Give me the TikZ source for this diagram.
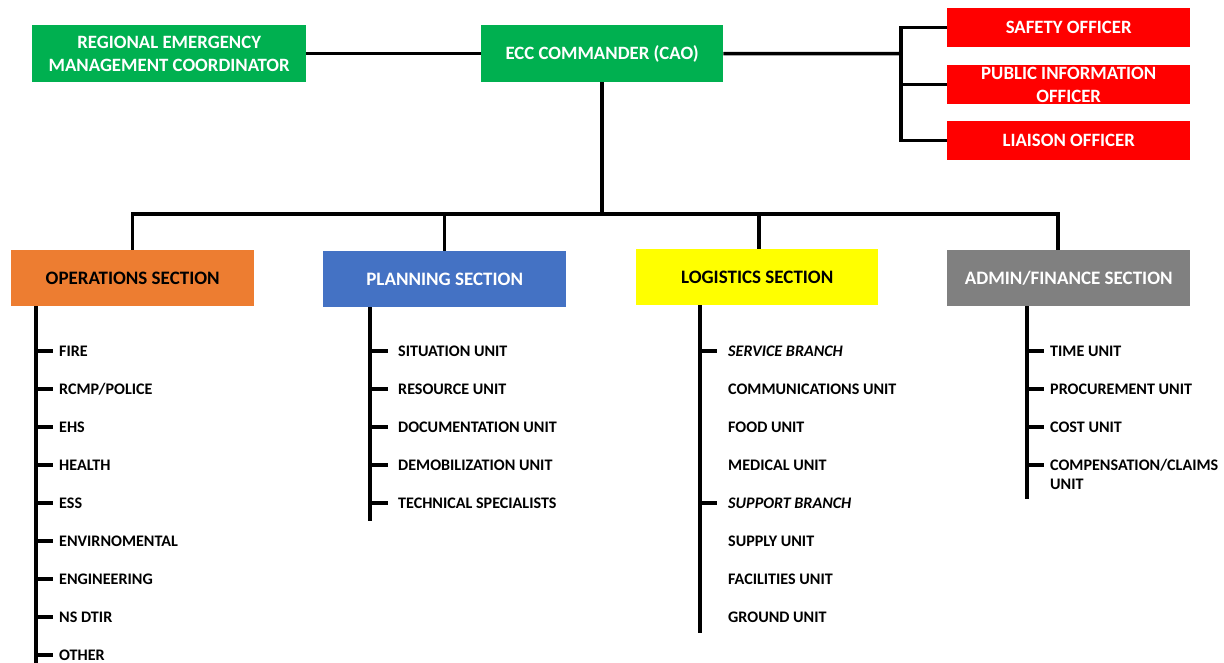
\documentclass[tikz,border=0pt]{standalone}
\usepackage{fontspec}
\setmainfont{Carlito}
\definecolor{eccgreen}{HTML}{00B050}
\definecolor{offred}{HTML}{FF0000}
\definecolor{opsorange}{HTML}{ED7D31}
\definecolor{planblue}{HTML}{4472C4}
\definecolor{logyellow}{HTML}{FFFF00}
\definecolor{admgray}{HTML}{808080}
\begin{document}
\begin{tikzpicture}[x=1pt,y=-1pt,
  box/.style={draw=none, inner sep=0pt, anchor=north west, align=center,
    font=\bfseries\fontsize{18.8}{22.5}\selectfont},
  topbox/.style={box, fill=eccgreen, text=white, minimum height=57pt},
  offbox/.style={box, fill=offred, text=white, minimum width=243pt, minimum height=39pt},
  secbox/.style={box, minimum width=243pt, minimum height=56pt, font=\bfseries\fontsize{19}{22}\selectfont},
  item/.style={anchor=west, inner sep=0pt, text height=10.3pt, text depth=0pt,
    font=\bfseries\fontsize{16.1}{19}\selectfont},
  conn/.style={line width=3.5pt, line join=miter}]
\useasboundingbox (0,0) rectangle (1224,663);

% top row
\node[topbox, minimum width=274pt] (rc) at (32,25) {REGIONAL EMERGENCY\\MANAGEMENT COORDINATOR};
\node[topbox, minimum width=242pt, text depth=2pt] (ecc) at (481,25) {ECC COMMANDER (CAO)};
\node[offbox] (safety) at (947,8) {SAFETY OFFICER};
\node[offbox] (pio) at (947,65) {PUBLIC INFORMATION\\OFFICER};
\node[offbox] (liaison) at (947,121) {LIAISON OFFICER};

% sections
\node[secbox, fill=opsorange, text=black] (ops) at (11,250) {OPERATIONS SECTION};
\node[secbox, fill=planblue, text=white] (plan) at (323,251) {PLANNING SECTION};
\node[secbox, fill=logyellow, text=black, minimum width=242pt] (log) at (636,249) {LOGISTICS SECTION};
\node[secbox, fill=admgray, text=white] (adm) at (947,250) {ADMIN/FINANCE SECTION};

% connectors top
\coordinate (jr) at (901,53.5);
\coordinate (bus) at (601,214);
\coordinate (admtop) at (1058,250);
\coordinate (logtop) at (759,249);
\draw[conn] (rc.east) -- (ecc.west);
\draw[conn] (ecc.east) -- (jr);
\draw[conn] (safety.west) -| (jr) |- (liaison.west);
\draw[conn] (jr |- pio.west) -- (pio.west);
\draw[conn] (ecc.south) -- (ecc.south |- bus);
\draw[conn] (ops.north) -- (ops.north |- bus) -- (admtop |- bus) -- (admtop);
\draw[conn] (plan.north |- bus) -- (plan.north);
\draw[conn] (logtop |- bus) -- (logtop);

% Operations list
\coordinate (opsv) at (36,306);
\coordinate (opsend) at (36,663);
\draw[conn] (opsv) -- (opsend);
\foreach \n/\t [count=\i from 0] in {fire/{FIRE}, rcmp/{RCMP/POLICE}, ehs/{EHS}, health/{HEALTH}, ess/{ESS},
    env/{ENVIRNOMENTAL}, eng/{ENGINEERING}, dtir/{NS DTIR}, other/{OTHER}}{
  \node[item] (\n) at (59,351+38*\i) {\t};
  \draw[conn] (opsv |- \n.west) -- ([xshift=-6pt]\n.west);
}

% Planning list
\coordinate (planv) at (370,307);
\coordinate (planend) at (370,521);
\draw[conn] (planv) -- (planend);
\foreach \n/\t [count=\i from 0] in {sit/{SITUATION UNIT}, res/{RESOURCE UNIT}, doc/{DOCUMENTATION UNIT},
    demob/{DEMOBILIZATION UNIT}, tech/{TECHNICAL SPECIALISTS}}{
  \node[item] (\n) at (398,351+38*\i) {\t};
  \draw[conn] (planv |- \n.west) -- ([xshift=-10pt]\n.west);
}

% Logistics list
\coordinate (logv) at (700,305);
\coordinate (logend) at (700,633);
\draw[conn] (logv) -- (logend);
\node[item] (service) at (728,351) {\itshape SERVICE BRANCH};
\node[item] (comm) at (728,389) {COMMUNICATIONS UNIT};
\node[item] (food) at (728,427) {FOOD UNIT};
\node[item] (medical) at (728,465) {MEDICAL UNIT};
\node[item] (support) at (728,503) {\itshape SUPPORT BRANCH};
\node[item] (supply) at (728,541) {SUPPLY UNIT};
\node[item] (facil) at (728,579) {FACILITIES UNIT};
\node[item] (ground) at (728,617) {GROUND UNIT};
\draw[conn] (logv |- service.west) -- ([xshift=-11pt]service.west);
\draw[conn] (logv |- support.west) -- ([xshift=-11pt]support.west);

% Admin list
\coordinate (admv) at (1027,306);
\coordinate (admend) at (1027,499);
\draw[conn] (admv) -- (admend);
\foreach \n/\t [count=\i from 0] in {time/{TIME UNIT}, proc/{PROCUREMENT UNIT}, cost/{COST UNIT}}{
  \node[item] (\n) at (1050,351+38*\i) {\t};
  \draw[conn] (admv |- \n.west) -- ([xshift=-6pt]\n.west);
}
\node[anchor=base west, inner sep=0pt, align=left, font=\bfseries\fontsize{16.1}{19}\selectfont]
  (comp) at (1050,489.2) {COMPENSATION/CLAIMS\\UNIT};
\coordinate (compt) at (1050,465);
\draw[conn] (admv |- compt) -- ([xshift=-6pt]compt);
\end{tikzpicture}
\end{document}
